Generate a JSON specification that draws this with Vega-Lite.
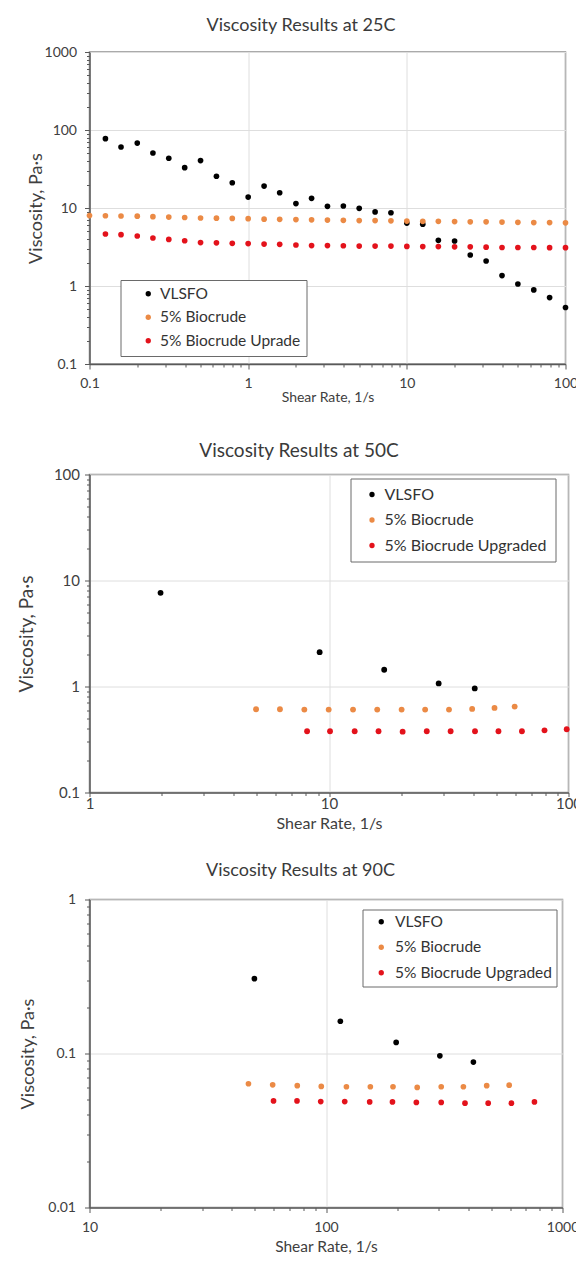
{
  "$schema": "https://vega.github.io/schema/vega-lite/v6.json",
  "background": "white",
  "padding": {"left": 15.5, "top": 16, "right": 0, "bottom": 0},
  "config": {
    "font": "Lato",
    "view": {"stroke": "#8f8f8f", "strokeWidth": 1.5},
    "axis": {
      "domainColor": "#595959",
      "domainWidth": 1.5,
      "tickColor": "#595959",
      "tickWidth": 1,
      "gridColor": "#dedede",
      "gridWidth": 1,
      "labelColor": "#404040",
      "titleColor": "#404040",
      "titleFontWeight": "normal",
      "labelFlush": false,
      "labelOverlap": false,
      "labelFont": "Lato",
      "titleFont": "Lato"
    },
    "title": {"fontWeight": "normal", "color": "#3a3a3a", "font": "Lato", "anchor": "middle", "frame": "group"},
    "legend": {
      "orient": "none",
      "direction": "vertical",
      "strokeColor": "#6a6a6a",
      "fillColor": "white",
      "labelColor": "#333333",
      "labelFont": "Lato",
      "labelLimit": 400,
      "symbolType": "circle",
      "symbolSize": 28,
      "symbolOpacity": 1,
      "symbolStrokeWidth": 0
    }
  },
  "datasets": {
    "d25": [
      {"series": "VLSFO", "shear": 0.126, "visc": 77.4},
      {"series": "VLSFO", "shear": 0.158, "visc": 60.5},
      {"series": "VLSFO", "shear": 0.2, "visc": 68},
      {"series": "VLSFO", "shear": 0.251, "visc": 50.7},
      {"series": "VLSFO", "shear": 0.316, "visc": 43.4},
      {"series": "VLSFO", "shear": 0.398, "visc": 32.9},
      {"series": "VLSFO", "shear": 0.501, "visc": 40.5},
      {"series": "VLSFO", "shear": 0.631, "visc": 25.5},
      {"series": "VLSFO", "shear": 0.794, "visc": 21.1},
      {"series": "VLSFO", "shear": 1, "visc": 13.8},
      {"series": "VLSFO", "shear": 1.26, "visc": 19.1},
      {"series": "VLSFO", "shear": 1.58, "visc": 15.7},
      {"series": "VLSFO", "shear": 2, "visc": 11.4},
      {"series": "VLSFO", "shear": 2.51, "visc": 13.3},
      {"series": "VLSFO", "shear": 3.16, "visc": 10.5},
      {"series": "VLSFO", "shear": 3.98, "visc": 10.6},
      {"series": "VLSFO", "shear": 5.01, "visc": 9.9},
      {"series": "VLSFO", "shear": 6.31, "visc": 8.9},
      {"series": "VLSFO", "shear": 7.94, "visc": 8.7},
      {"series": "VLSFO", "shear": 10, "visc": 6.4},
      {"series": "VLSFO", "shear": 12.6, "visc": 6.2},
      {"series": "VLSFO", "shear": 15.8, "visc": 3.85},
      {"series": "VLSFO", "shear": 20, "visc": 3.78},
      {"series": "VLSFO", "shear": 25.1, "visc": 2.5},
      {"series": "VLSFO", "shear": 31.6, "visc": 2.09},
      {"series": "VLSFO", "shear": 39.8, "visc": 1.36},
      {"series": "VLSFO", "shear": 50.1, "visc": 1.06},
      {"series": "VLSFO", "shear": 63.1, "visc": 0.89},
      {"series": "VLSFO", "shear": 79.4, "visc": 0.71},
      {"series": "VLSFO", "shear": 100, "visc": 0.53},
      {"series": "5% Biocrude", "shear": 0.1, "visc": 8.0},
      {"series": "5% Biocrude", "shear": 0.126, "visc": 7.95},
      {"series": "5% Biocrude", "shear": 0.158, "visc": 7.9},
      {"series": "5% Biocrude", "shear": 0.2, "visc": 7.85},
      {"series": "5% Biocrude", "shear": 0.251, "visc": 7.75},
      {"series": "5% Biocrude", "shear": 0.316, "visc": 7.65},
      {"series": "5% Biocrude", "shear": 0.398, "visc": 7.55},
      {"series": "5% Biocrude", "shear": 0.501, "visc": 7.45},
      {"series": "5% Biocrude", "shear": 0.631, "visc": 7.4},
      {"series": "5% Biocrude", "shear": 0.794, "visc": 7.35},
      {"series": "5% Biocrude", "shear": 1, "visc": 7.3},
      {"series": "5% Biocrude", "shear": 1.26, "visc": 7.2},
      {"series": "5% Biocrude", "shear": 1.58, "visc": 7.15},
      {"series": "5% Biocrude", "shear": 2, "visc": 7.1},
      {"series": "5% Biocrude", "shear": 2.51, "visc": 7.05},
      {"series": "5% Biocrude", "shear": 3.16, "visc": 7.0},
      {"series": "5% Biocrude", "shear": 3.98, "visc": 6.95},
      {"series": "5% Biocrude", "shear": 5.01, "visc": 6.9},
      {"series": "5% Biocrude", "shear": 6.31, "visc": 6.9},
      {"series": "5% Biocrude", "shear": 7.94, "visc": 6.85},
      {"series": "5% Biocrude", "shear": 10, "visc": 6.8},
      {"series": "5% Biocrude", "shear": 12.6, "visc": 6.75},
      {"series": "5% Biocrude", "shear": 15.8, "visc": 6.75},
      {"series": "5% Biocrude", "shear": 20, "visc": 6.7},
      {"series": "5% Biocrude", "shear": 25.1, "visc": 6.65},
      {"series": "5% Biocrude", "shear": 31.6, "visc": 6.65},
      {"series": "5% Biocrude", "shear": 39.8, "visc": 6.6},
      {"series": "5% Biocrude", "shear": 50.1, "visc": 6.55},
      {"series": "5% Biocrude", "shear": 63.1, "visc": 6.5},
      {"series": "5% Biocrude", "shear": 79.4, "visc": 6.5},
      {"series": "5% Biocrude", "shear": 100, "visc": 6.45},
      {"series": "5% Biocrude Uprade", "shear": 0.126, "visc": 4.64},
      {"series": "5% Biocrude Uprade", "shear": 0.158, "visc": 4.55},
      {"series": "5% Biocrude Uprade", "shear": 0.2, "visc": 4.37},
      {"series": "5% Biocrude Uprade", "shear": 0.251, "visc": 4.12},
      {"series": "5% Biocrude Uprade", "shear": 0.316, "visc": 3.96},
      {"series": "5% Biocrude Uprade", "shear": 0.398, "visc": 3.8},
      {"series": "5% Biocrude Uprade", "shear": 0.501, "visc": 3.6},
      {"series": "5% Biocrude Uprade", "shear": 0.631, "visc": 3.58},
      {"series": "5% Biocrude Uprade", "shear": 0.794, "visc": 3.52},
      {"series": "5% Biocrude Uprade", "shear": 1, "visc": 3.5},
      {"series": "5% Biocrude Uprade", "shear": 1.26, "visc": 3.45},
      {"series": "5% Biocrude Uprade", "shear": 1.58, "visc": 3.42},
      {"series": "5% Biocrude Uprade", "shear": 2, "visc": 3.35},
      {"series": "5% Biocrude Uprade", "shear": 2.51, "visc": 3.3},
      {"series": "5% Biocrude Uprade", "shear": 3.16, "visc": 3.3},
      {"series": "5% Biocrude Uprade", "shear": 3.98, "visc": 3.28},
      {"series": "5% Biocrude Uprade", "shear": 5.01, "visc": 3.25},
      {"series": "5% Biocrude Uprade", "shear": 6.31, "visc": 3.25},
      {"series": "5% Biocrude Uprade", "shear": 7.94, "visc": 3.25},
      {"series": "5% Biocrude Uprade", "shear": 10, "visc": 3.22},
      {"series": "5% Biocrude Uprade", "shear": 12.6, "visc": 3.2},
      {"series": "5% Biocrude Uprade", "shear": 15.8, "visc": 3.2},
      {"series": "5% Biocrude Uprade", "shear": 20, "visc": 3.18},
      {"series": "5% Biocrude Uprade", "shear": 25.1, "visc": 3.18},
      {"series": "5% Biocrude Uprade", "shear": 31.6, "visc": 3.15},
      {"series": "5% Biocrude Uprade", "shear": 39.8, "visc": 3.12},
      {"series": "5% Biocrude Uprade", "shear": 50.1, "visc": 3.12},
      {"series": "5% Biocrude Uprade", "shear": 63.1, "visc": 3.12},
      {"series": "5% Biocrude Uprade", "shear": 79.4, "visc": 3.1},
      {"series": "5% Biocrude Uprade", "shear": 100, "visc": 3.1}
    ],
    "d50": [
      {"series": "VLSFO", "shear": 1.98, "visc": 7.65},
      {"series": "VLSFO", "shear": 9.14, "visc": 2.11},
      {"series": "VLSFO", "shear": 17.0, "visc": 1.44},
      {"series": "VLSFO", "shear": 28.7, "visc": 1.07},
      {"series": "VLSFO", "shear": 40.6, "visc": 0.96},
      {"series": "5% Biocrude", "shear": 4.96, "visc": 0.61},
      {"series": "5% Biocrude", "shear": 6.24, "visc": 0.61},
      {"series": "5% Biocrude", "shear": 7.89, "visc": 0.606},
      {"series": "5% Biocrude", "shear": 9.97, "visc": 0.606},
      {"series": "5% Biocrude", "shear": 12.6, "visc": 0.606},
      {"series": "5% Biocrude", "shear": 15.9, "visc": 0.606},
      {"series": "5% Biocrude", "shear": 20.1, "visc": 0.606},
      {"series": "5% Biocrude", "shear": 25.2, "visc": 0.606},
      {"series": "5% Biocrude", "shear": 31.7, "visc": 0.606},
      {"series": "5% Biocrude", "shear": 39.6, "visc": 0.615},
      {"series": "5% Biocrude", "shear": 49.1, "visc": 0.628},
      {"series": "5% Biocrude", "shear": 59.6, "visc": 0.647},
      {"series": "5% Biocrude Upgraded", "shear": 8.1, "visc": 0.378},
      {"series": "5% Biocrude Upgraded", "shear": 10.1, "visc": 0.378},
      {"series": "5% Biocrude Upgraded", "shear": 12.8, "visc": 0.378},
      {"series": "5% Biocrude Upgraded", "shear": 16.1, "visc": 0.378},
      {"series": "5% Biocrude Upgraded", "shear": 20.3, "visc": 0.375},
      {"series": "5% Biocrude Upgraded", "shear": 25.6, "visc": 0.378},
      {"series": "5% Biocrude Upgraded", "shear": 32.2, "visc": 0.378},
      {"series": "5% Biocrude Upgraded", "shear": 40.7, "visc": 0.378},
      {"series": "5% Biocrude Upgraded", "shear": 51, "visc": 0.378},
      {"series": "5% Biocrude Upgraded", "shear": 63.9, "visc": 0.378},
      {"series": "5% Biocrude Upgraded", "shear": 79.4, "visc": 0.386},
      {"series": "5% Biocrude Upgraded", "shear": 98.3, "visc": 0.395}
    ],
    "d90": [
      {"series": "VLSFO", "shear": 49.8, "visc": 0.306},
      {"series": "VLSFO", "shear": 115, "visc": 0.162},
      {"series": "VLSFO", "shear": 198, "visc": 0.118},
      {"series": "VLSFO", "shear": 303, "visc": 0.0966},
      {"series": "VLSFO", "shear": 420, "visc": 0.088},
      {"series": "5% Biocrude", "shear": 47, "visc": 0.0636},
      {"series": "5% Biocrude", "shear": 59.5, "visc": 0.0626},
      {"series": "5% Biocrude", "shear": 75.6, "visc": 0.0618},
      {"series": "5% Biocrude", "shear": 95.5, "visc": 0.0611},
      {"series": "5% Biocrude", "shear": 122, "visc": 0.0608},
      {"series": "5% Biocrude", "shear": 154, "visc": 0.0608},
      {"series": "5% Biocrude", "shear": 192, "visc": 0.0608},
      {"series": "5% Biocrude", "shear": 243, "visc": 0.0602},
      {"series": "5% Biocrude", "shear": 307, "visc": 0.0608},
      {"series": "5% Biocrude", "shear": 381, "visc": 0.0608},
      {"series": "5% Biocrude", "shear": 478, "visc": 0.0618},
      {"series": "5% Biocrude", "shear": 595, "visc": 0.0623},
      {"series": "5% Biocrude Upgraded", "shear": 60, "visc": 0.0492},
      {"series": "5% Biocrude Upgraded", "shear": 75.4, "visc": 0.0492},
      {"series": "5% Biocrude Upgraded", "shear": 95, "visc": 0.0487},
      {"series": "5% Biocrude Upgraded", "shear": 120, "visc": 0.0487},
      {"series": "5% Biocrude Upgraded", "shear": 153, "visc": 0.0485},
      {"series": "5% Biocrude Upgraded", "shear": 191, "visc": 0.0485},
      {"series": "5% Biocrude Upgraded", "shear": 241, "visc": 0.0481},
      {"series": "5% Biocrude Upgraded", "shear": 307, "visc": 0.0481},
      {"series": "5% Biocrude Upgraded", "shear": 387, "visc": 0.0476},
      {"series": "5% Biocrude Upgraded", "shear": 485, "visc": 0.0476},
      {"series": "5% Biocrude Upgraded", "shear": 608, "visc": 0.0476},
      {"series": "5% Biocrude Upgraded", "shear": 761, "visc": 0.0485}
    ]
  },
  "spacing": 35.5,
  "resolve": {"scale": {"x": "independent", "y": "independent", "color": "independent"}, "legend": {"color": "independent"}},
  "vconcat": [
    {
      "data": {"name": "d25"},
      "width": 476,
      "height": 312,
      "title": {"text": "Viscosity Results at 25C", "fontSize": 18, "offset": 10, "dx": -26.5},
      "mark": {"type": "circle", "size": 32, "opacity": 1},
      "encoding": {
        "x": {
          "field": "shear", "type": "quantitative",
          "scale": {"type": "log", "domain": [0.1, 100], "nice": false},
          "axis": {
            "title": "Shear Rate, 1/s",
            "values": [0.1, 0.2, 0.3, 0.4, 0.5, 0.6, 0.7, 0.8, 0.9, 1, 2, 3, 4, 5, 6, 7, 8, 9, 10, 20, 30, 40, 50, 60, 70, 80, 90, 100],
            "format": "~g",
            "labelExpr": "abs(log(datum.value)/LN10 - round(log(datum.value)/LN10)) < 0.001 ? datum.label : ''",
            "tickSize": {"condition": {"test": "abs(log(datum.value)/LN10 - round(log(datum.value)/LN10)) < 0.001", "value": 5}, "value": 3},
            "gridOpacity": {"condition": {"test": "abs(log(datum.value)/LN10 - round(log(datum.value)/LN10)) < 0.001", "value": 1}, "value": 0},
            "labelFontSize": 14, "titleFontSize": 14, "labelPadding": 7, "titlePadding": 0
          }
        },
        "y": {
          "field": "visc", "type": "quantitative",
          "scale": {"type": "log", "domain": [0.1, 1000], "nice": false},
          "axis": {
            "title": "Viscosity, Pa·s",
            "values": [0.1, 0.2, 0.3, 0.4, 0.5, 0.6, 0.7, 0.8, 0.9, 1, 2, 3, 4, 5, 6, 7, 8, 9, 10, 20, 30, 40, 50, 60, 70, 80, 90, 100, 200, 300, 400, 500, 600, 700, 800, 900, 1000],
            "format": "~g",
            "labelExpr": "abs(log(datum.value)/LN10 - round(log(datum.value)/LN10)) < 0.001 ? datum.label : ''",
            "tickSize": {"condition": {"test": "abs(log(datum.value)/LN10 - round(log(datum.value)/LN10)) < 0.001", "value": 5}, "value": 3},
            "gridOpacity": {"condition": {"test": "abs(log(datum.value)/LN10 - round(log(datum.value)/LN10)) < 0.001", "value": 1}, "value": 0},
            "labelFontSize": 14, "titleFontSize": 18, "labelPadding": 8,
            "minExtent": 44, "maxExtent": 44, "titlePadding": 0
          }
        },
        "color": {
          "field": "series", "type": "nominal",
          "scale": {"domain": ["VLSFO", "5% Biocrude", "5% Biocrude Uprade"], "range": ["#000000", "#EB8A45", "#E3121B"]},
          "legend": {
            "title": null, "legendX": 31, "legendY": 228,
            "padding": 6, "rowPadding": 6.5, "symbolOffset": 14, "labelOffset": 4,
            "labelFontSize": 15.5
          }
        }
      }
    },
    {
      "spacing": 28,
      "resolve": {"scale": {"x": "independent", "y": "independent", "color": "independent"}, "legend": {"color": "independent"}},
      "vconcat": [
        {
          "data": {"name": "d50"},
          "width": 479,
          "height": 318,
          "title": {"text": "Viscosity Results at 50C", "fontSize": 19, "offset": 7, "dx": -30},
          "mark": {"type": "circle", "size": 34, "opacity": 1},
          "encoding": {
            "x": {
              "field": "shear", "type": "quantitative",
              "scale": {"type": "log", "domain": [1, 100], "nice": false},
              "axis": {
                "title": "Shear Rate, 1/s",
                "values": [1, 2, 3, 4, 5, 6, 7, 8, 9, 10, 20, 30, 40, 50, 60, 70, 80, 90, 100],
                "format": "~g",
                "labelExpr": "abs(log(datum.value)/LN10 - round(log(datum.value)/LN10)) < 0.001 ? datum.label : ''",
                "tickSize": {"condition": {"test": "abs(log(datum.value)/LN10 - round(log(datum.value)/LN10)) < 0.001", "value": 4}, "value": 3},
                "gridOpacity": {"condition": {"test": "abs(log(datum.value)/LN10 - round(log(datum.value)/LN10)) < 0.001", "value": 1}, "value": 0},
                "labelFontSize": 15, "titleFontSize": 16, "labelPadding": 0, "titlePadding": 4
              }
            },
            "y": {
              "field": "visc", "type": "quantitative",
              "scale": {"type": "log", "domain": [0.1, 100], "nice": false},
              "axis": {
                "title": "Viscosity, Pa·s",
                "values": [0.1, 0.2, 0.3, 0.4, 0.5, 0.6, 0.7, 0.8, 0.9, 1, 2, 3, 4, 5, 6, 7, 8, 9, 10, 20, 30, 40, 50, 60, 70, 80, 90, 100],
                "format": "~g",
                "labelExpr": "abs(log(datum.value)/LN10 - round(log(datum.value)/LN10)) < 0.001 ? datum.label : ''",
                "tickSize": {"condition": {"test": "abs(log(datum.value)/LN10 - round(log(datum.value)/LN10)) < 0.001", "value": 5}, "value": 3},
                "gridOpacity": {"condition": {"test": "abs(log(datum.value)/LN10 - round(log(datum.value)/LN10)) < 0.001", "value": 1}, "value": 0},
                "labelFontSize": 15, "titleFontSize": 19, "labelPadding": 5,
                "minExtent": 40, "maxExtent": 40, "titlePadding": 13.5
              }
            },
            "color": {
              "field": "series", "type": "nominal",
              "scale": {"domain": ["VLSFO", "5% Biocrude", "5% Biocrude Upgraded"], "range": ["#000000", "#EB8A45", "#E3121B"]},
              "legend": {
                "title": null, "legendX": 261, "legendY": 4,
                "padding": 8, "rowPadding": 9.5, "symbolOffset": 5.5, "labelOffset": 4.5,
                "labelFontSize": 16, "labelExpr": "datum.label + '\u00a0\u00a0\u00a0\u00a0'"
              }
            }
          }
        },
        {
          "data": {"name": "d90"},
          "width": 473,
          "height": 308,
          "title": {"text": "Viscosity Results at 90C", "fontSize": 18, "offset": 13, "dx": -25.5},
          "mark": {"type": "circle", "size": 32, "opacity": 1},
          "encoding": {
            "x": {
              "field": "shear", "type": "quantitative",
              "scale": {"type": "log", "domain": [10, 1000], "nice": false},
              "axis": {
                "title": "Shear Rate, 1/s",
                "values": [10, 20, 30, 40, 50, 60, 70, 80, 90, 100, 200, 300, 400, 500, 600, 700, 800, 900, 1000],
                "format": "~g",
                "labelExpr": "abs(log(datum.value)/LN10 - round(log(datum.value)/LN10)) < 0.001 ? datum.label : ''",
                "tickSize": {"condition": {"test": "abs(log(datum.value)/LN10 - round(log(datum.value)/LN10)) < 0.001", "value": 5}, "value": 3},
                "gridOpacity": {"condition": {"test": "abs(log(datum.value)/LN10 - round(log(datum.value)/LN10)) < 0.001", "value": 1}, "value": 0},
                "labelFontSize": 14, "titleFontSize": 15.5, "labelPadding": 8, "titlePadding": 5
              }
            },
            "y": {
              "field": "visc", "type": "quantitative",
              "scale": {"type": "log", "domain": [0.01, 1], "nice": false},
              "axis": {
                "title": "Viscosity, Pa·s",
                "values": [0.01, 0.02, 0.03, 0.04, 0.05, 0.06, 0.07, 0.08, 0.09, 0.1, 0.2, 0.3, 0.4, 0.5, 0.6, 0.7, 0.8, 0.9, 1],
                "format": "~g",
                "labelExpr": "abs(log(datum.value)/LN10 - round(log(datum.value)/LN10)) < 0.001 ? datum.label : ''",
                "tickSize": {"condition": {"test": "abs(log(datum.value)/LN10 - round(log(datum.value)/LN10)) < 0.001", "value": 5}, "value": 3},
                "gridOpacity": {"condition": {"test": "abs(log(datum.value)/LN10 - round(log(datum.value)/LN10)) < 0.001", "value": 1}, "value": 0},
                "labelFontSize": 14, "titleFontSize": 18, "labelPadding": 9,
                "minExtent": 40, "maxExtent": 40, "titlePadding": 12
              }
            },
            "color": {
              "field": "series", "type": "nominal",
              "scale": {"domain": ["VLSFO", "5% Biocrude", "5% Biocrude Upgraded"], "range": ["#000000", "#EB8A45", "#E3121B"]},
              "legend": {
                "title": null, "legendX": 273, "legendY": 10,
                "padding": 4.5, "rowPadding": 8.5, "symbolOffset": 6.5, "labelOffset": 6,
                "labelFontSize": 15.5
              }
            }
          }
        }
      ]
    }
  ]
}
